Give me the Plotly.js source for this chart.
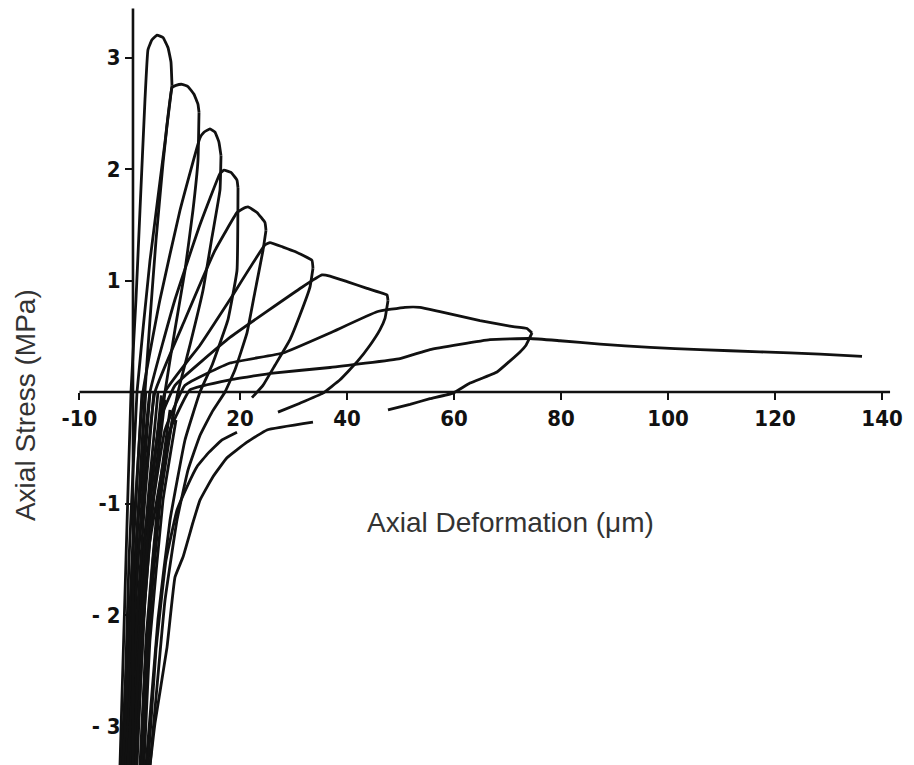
<!DOCTYPE html>
<html>
<head>
<meta charset="utf-8">
<script src="https://cdn.plot.ly/plotly-3.0.1.min.js"></script>
<style>html,body{margin:0;padding:0;background:#fff;}#chart{width:914px;height:765px;}</style>
</head>
<body>
<div id="chart"></div>
<script>
// ---- tick labels ----
const xTickVals = [-10, 20, 40, 60, 80, 100, 120, 140];
const xTickText = ['-10', '20', '40', '60', '80', '100', '120', '140'];
const yTickVals = [-3, -2, -1, 1, 2, 3];
const yTickText = ['- 3', '- 2', '-1', '1', '2', '3'];

// ---- cycle 1 ----
const load1X = [-2.43, -1.31, -0.37, 0.56, 1.31, 2.24, 2.80, 3.55, 4.49, 5.61, 6.54, 7.10, 7.29];
const load1Y = [-3.35, -1.51, 0, 0.83, 1.63, 2.62, 3.07, 3.16, 3.20, 3.18, 3.09, 2.96, 2.75];
const unload1X = [7.29, 6.36, 5.61, 4.30, 3.18, 2.24, 0.93, -0.19, -1.12];
const unload1Y = [2.75, 2.39, 2.05, 1.36, 0.65, 0, -1.15, -2.22, -3.35];

// ---- cycle 2 ----
const reload2X = [-1.87, -0.75, 0.75, 3.18, 5.98, 7.29, 8.04, 9.16, 10.28, 11.40, 12.15, 12.34];
const reload2Y = [-3.35, -1.51, 0, 1.18, 2.24, 2.73, 2.75, 2.76, 2.74, 2.67, 2.58, 2.51];
const unload2X = [12.34, 12.15, 11.21, 9.72, 7.85, 5.98, 4.11, 2.24, 0.56];
const unload2Y = [2.51, 2.08, 1.63, 1.09, 0.56, 0, -0.79, -1.87, -3.35];

// ---- cycle 3 ----
const reload3X = [-1.50, -0.19, 1.87, 5.05, 8.79, 12.52, 13.27, 14.39, 15.33, 16.07, 16.45];
const reload3Y = [-3.35, -1.51, 0, 0.83, 1.63, 2.28, 2.33, 2.36, 2.33, 2.24, 2.12];
const unload3X = [16.45, 16.26, 14.77, 13.08, 10.65, 8.41, 5.98, 3.74, 1.68];
const unload3Y = [2.12, 1.81, 1.39, 0.91, 0.42, 0, -0.61, -1.51, -3.35];

// ---- cycle 4 ----
const reload4X = [-1.12, 0.37, 3.18, 7.85, 12.52, 16.26, 17.01, 18.32, 19.44, 19.63];
const reload4Y = [-3.35, -1.51, 0, 0.83, 1.50, 1.96, 1.99, 1.97, 1.90, 1.83];
const unload4X = [19.63, 19.44, 17.76, 14.77, 12.52, 9.72, 6.92, 4.67, 2.43];
const unload4Y = [1.83, 1.09, 0.65, 0.24, 0, -0.43, -1.15, -2.04, -3.35];

// ---- cycle 5 ----
const reload5X = [-0.75, 0.93, 4.11, 9.72, 15.33, 19.44, 20.37, 21.50, 23.18, 24.67, 24.86];
const reload5Y = [-3.35, -1.51, 0, 0.65, 1.27, 1.61, 1.64, 1.66, 1.61, 1.52, 1.45];
const unload5X = [24.86, 24.30, 22.80, 21.31, 19.07, 17.20, 14.77, 12.52, 10.28, 8.22, 5.98, 3.18];
const unload5Y = [1.45, 1.27, 0.90, 0.53, 0.20, 0, -0.18, -0.39, -0.70, -1.15, -1.87, -3.35];

// ---- cycle 6 ----
const reload6X = [-0.37, 1.68, 5.98, 12.52, 18.13, 24.67, 25.61, 28.04, 30.28, 33.46, 33.64];
const reload6Y = [-3.35, -1.51, 0, 0.42, 0.83, 1.32, 1.34, 1.30, 1.26, 1.18, 1.11];
const unload6X = [33.64, 33.08, 31.21, 29.35, 26.54, 24.30, 22.24, null, 19.44, 16.64, 14.02, 11.96, 10.09, 8.22, 6.17, 4.30, 2.80];
const unload6Y = [1.11, 0.94, 0.69, 0.47, 0.24, 0.06, -0.05, null, -0.36, -0.43, -0.55, -0.67, -0.85, -1.06, -1.51, -2.31, -3.35];

// ---- cycle 7 ----
const reload7X = [0, 1.87, 5.05, 7.85, 18.13, 31.59, 35.33, 36.82, 40.0, 43.74, 47.48, 47.66];
const reload7Y = [-3.35, -1.51, -0.25, 0.06, 0.49, 0.94, 1.05, 1.04, 0.99, 0.93, 0.87, 0.82];
const unload7X = [47.66, 47.10, 46.17, 44.30, 41.87, 38.69, 35.51, 31.21, 27.10, null,
                  33.64, 25.05, 21.31, 17.57, 14.95, 12.52, 11.21, 9.35, 7.85, 6.36, 4.11, 3.18];
const unload7Y = [0.82, 0.66, 0.56, 0.42, 0.27, 0.11, -0.01, -0.10, -0.18, null,
                  -0.27, -0.34, -0.45, -0.59, -0.76, -0.97, -1.17, -1.48, -1.66, -2.29, -2.97, -3.35];

// ---- cycle 8 ----
const reload8X = [0.37, 2.24, 5.98, 9.72, 18.13, 28.04, 36.82, 45.61, 50.84, 53.64, 57.38, 64.86, 70.47, 73.64, 74.58];
const reload8Y = [-3.35, -1.51, -0.34, 0.06, 0.26, 0.35, 0.53, 0.72, 0.76, 0.76, 0.72, 0.64, 0.59, 0.57, 0.53];
const unload8X = [74.58, 73.46, 72.34, 68.04, 62.99, 59.81, 55.51, 51.78, 47.66];
const unload8Y = [0.53, 0.42, 0.36, 0.18, 0.08, -0.01, -0.06, -0.11, -0.16];

// ---- cycle 9 (final softening tail) ----
const reload9X = [0.75, 2.62, 6.92, 10.65, 18.13, 26.17, 36.82, 49.91, 55.51, 66.73, 74.21,
                  79.81, 87.29, 96.64, 105.98, 117.20, 128.41, 136.26];
const reload9Y = [-3.35, -1.51, -0.34, 0.02, 0.11, 0.17, 0.22, 0.30, 0.38, 0.47, 0.48,
                  0.46, 0.43, 0.40, 0.38, 0.36, 0.34, 0.32];

// ---- dense compression branches (bundle near the stress axis) ----
const comp1X = [1.68, 0.56, -0.93, -2.24];
const comp1Y = [0, -0.97, -2.22, -3.35];
const comp2X = [3.18, 1.68, 0, -1.50];
const comp2Y = [0, -0.97, -2.22, -3.35];
const comp3X = [4.67, 2.80, 0.93, -0.56];
const comp3Y = [0, -0.97, -2.22, -3.35];
const comp4X = [5.98, 3.74, 1.68, 0.37];
const comp4Y = [-0.07, -0.97, -2.22, -3.35];
const comp5X = [6.92, 4.67, 2.43, 1.31];
const comp5Y = [-0.16, -0.97, -2.22, -3.35];
const comp6X = [8.04, 5.61, 3.18, 2.06];
const comp6Y = [-0.25, -0.97, -2.22, -3.35];
const comp7X = [2.40, 1.10, -0.50, -1.90];
const comp7Y = [0, -0.97, -2.22, -3.35];
const comp8X = [3.90, 2.20, 0.50, -1.00];
const comp8Y = [0, -0.97, -2.22, -3.35];
const comp9X = [5.30, 3.30, 1.30, 0.00];
const comp9Y = [-0.03, -0.97, -2.22, -3.35];
const comp10X = [7.50, 5.10, 2.80, 1.70];
const comp10Y = [-0.20, -0.97, -2.22, -3.35];

const paths = [
  [load1X, load1Y], [unload1X, unload1Y],
  [reload2X, reload2Y], [unload2X, unload2Y],
  [reload3X, reload3Y], [unload3X, unload3Y],
  [reload4X, reload4Y], [unload4X, unload4Y],
  [reload5X, reload5Y], [unload5X, unload5Y],
  [reload6X, reload6Y], [unload6X, unload6Y],
  [reload7X, reload7Y], [unload7X, unload7Y],
  [reload8X, reload8Y], [unload8X, unload8Y],
  [reload9X, reload9Y],
  [comp1X, comp1Y], [comp2X, comp2Y], [comp3X, comp3Y],
  [comp4X, comp4Y], [comp5X, comp5Y], [comp6X, comp6Y],
  [comp7X, comp7Y], [comp8X, comp8Y], [comp9X, comp9Y], [comp10X, comp10Y]
];

const traces = paths.map(p => ({
  x: p[0], y: p[1], type: 'scatter', mode: 'lines',
  line: {color: '#111', width: 2.8, shape: 'spline', smoothing: 0.3},
  connectgaps: false, hoverinfo: 'skip', showlegend: false
}));

const xRange = [-15.51, 143.36];
const yRange = [-3.345, 3.471];
const tickFont = {family: 'DejaVu Sans Condensed, DejaVu Sans', size: 22, color: '#111', weight: 'bold'};
const titleFont = {family: 'Liberation Sans, Arial', size: 28, color: '#333'};

const layout = {
  width: 914, height: 765,
  margin: {l: 50, r: 14, t: 5, b: 0},
  paper_bgcolor: '#fff', plot_bgcolor: '#fff',
  showlegend: false,
  xaxis: {
    range: xRange, anchor: 'free',
    position: (0 - yRange[0]) / (yRange[1] - yRange[0]),
    showgrid: false, zeroline: false, showline: false,
    tickmode: 'array', tickvals: xTickVals, ticktext: xTickText,
    ticks: 'outside', ticklen: 7, tickwidth: 2, tickcolor: '#111',
    tickfont: tickFont
  },
  yaxis: {
    range: yRange, anchor: 'free',
    position: (0 - xRange[0]) / (xRange[1] - xRange[0]),
    showgrid: false, zeroline: false, showline: false,
    tickmode: 'array', tickvals: yTickVals, ticktext: yTickText,
    ticks: 'outside', ticklen: 8, tickwidth: 2, tickcolor: '#111',
    tickfont: tickFont
  },
  shapes: [
    {type: 'line', xref: 'x', yref: 'y', x0: -10, x1: 141.5, y0: 0, y1: 0, line: {color: '#111', width: 2.6}},
    {type: 'line', xref: 'x', yref: 'y', x0: 0, x1: 0, y0: yRange[0], y1: 3.44, line: {color: '#111', width: 2.6}}
  ],
  annotations: [
    {text: 'Axial Deformation (\u03bcm)', xref: 'x', yref: 'y', x: 70.5, y: -1.166,
     xanchor: 'center', yanchor: 'middle', showarrow: false, font: titleFont},
    {text: 'Axial Stress (MPa)', xref: 'paper', yref: 'y', x: -0.0294, y: -0.117,
     xanchor: 'center', yanchor: 'middle',
     textangle: -90, showarrow: false, font: titleFont}
  ]
};

Plotly.newPlot('chart', traces, layout, {displayModeBar: false, staticPlot: true});
</script>
</body>
</html>
